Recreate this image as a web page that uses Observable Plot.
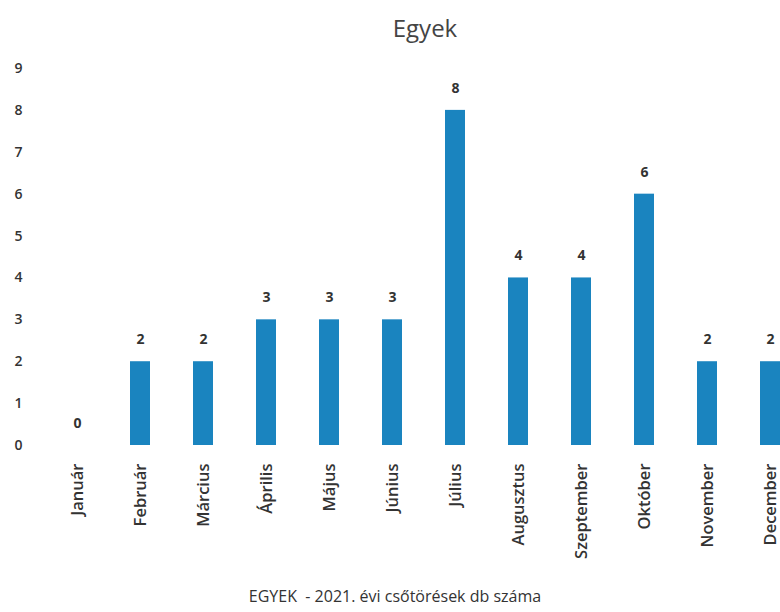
<!DOCTYPE html>
<html>
<head>
<meta charset="utf-8">
<script src="https://cdn.jsdelivr.net/npm/d3@7"></script>
<script src="https://cdn.jsdelivr.net/npm/@observablehq/plot@0.6"></script>
<style>
  html, body { margin: 0; padding: 0; background: #fff; overflow: hidden; width: 780px; }
  #title { height: 50px; line-height: 56px; font-family: "Open Sans", sans-serif; font-size: 24px; color: #444; width: 850px; text-align: center; }
  #chart { width: 804px; }
  #caption { font-family: "Open Sans", sans-serif; font-size: 16px; color: #333; width: 790px; text-align: center; margin-top: 0px; }
</style>
</head>
<body>
<div id="title">Egyek</div>
<div id="chart"></div>
<div id="caption">EGYEK&nbsp; - 2021. évi csőtörések db száma</div>
<script>
const months = ["Január", "Február", "Március", "Április", "Május", "Június", "Július", "Augusztus", "Szeptember", "Október", "November", "December"];
const counts = [0, 2, 2, 3, 3, 3, 8, 4, 4, 6, 2, 2];
const yTicks = [0, 1, 2, 3, 4, 5, 6, 7, 8, 9];

const data = months.map((m, i) => ({month: m, value: counts[i]}));

const chart = Plot.plot({
  width: 804,
  height: 535,
  marginLeft: 43,
  marginRight: 0,
  marginTop: 18,
  marginBottom: 140,
  style: {fontFamily: "Open Sans, sans-serif", fontSize: "14px", color: "#333", fontWeight: 600},
  x: {domain: months, paddingInner: 0.685, paddingOuter: 0.3425, label: null},
  y: {domain: [0, 9], label: null},
  marks: [
    Plot.barY(data, {x: "month", y: "value", fill: "#1a84bf"}),
    Plot.text(data, {x: "month", y: "value", text: d => String(d.value), dy: -22, fill: "#333", fontSize: 14, fontWeight: 700}),
    Plot.axisY({ticks: yTicks, tickSize: 0, tickPadding: 21, tickFormat: d => String(d), fontSize: 14}),
    Plot.axisX({tickSize: 0, tickPadding: 18, tickRotate: -90, fontSize: 16.5})
  ]
});
document.getElementById("chart").appendChild(chart);
</script>
</body>
</html>
